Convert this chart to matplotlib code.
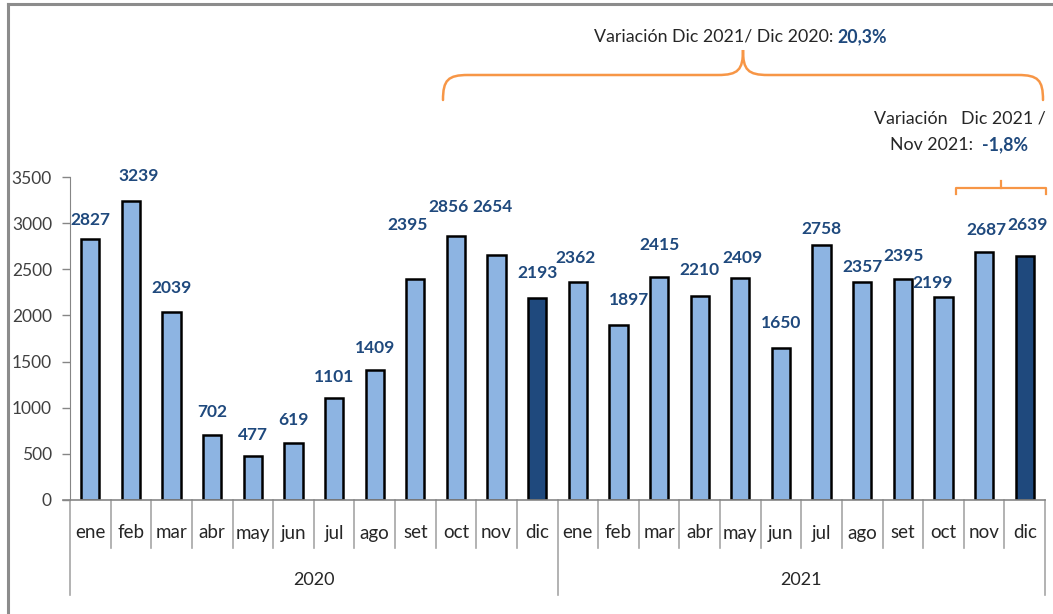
import matplotlib
matplotlib.use("Agg")
import matplotlib.pyplot as plt
from matplotlib.path import Path
from matplotlib.patches import PathPatch
from matplotlib.lines import Line2D

plt.rcParams['font.family'] = ['Lato', 'DejaVu Sans']

months = ["ene", "feb", "mar", "abr", "may", "jun", "jul", "ago", "set", "oct", "nov", "dic"]
years = ["2020", "2021"]
values_2020 = [2827, 3239, 2039, 702, 477, 619, 1101, 1409, 2395, 2856, 2654, 2193]
values_2021 = [2362, 1897, 2415, 2210, 2409, 1650, 2758, 2357, 2395, 2199, 2687, 2639]
yticks = [0, 500, 1000, 1500, 2000, 2500, 3000, 3500]

# label placement tweaks (pixels: dx, gap above bar top)
label_dx = [0, 8, 0, 0, 0, 0, 0, 0, -8, -7, -4, 0,
            -2, 11, 0, 0, 2, 0, 0, 0, 1, -11, 2, 3]
label_gap = [19, 25, 24, 23, 21, 23, 21, 22, 54, 29, 48, 25,
             24, 25, 32, 26, 20, 25, 16, 15, 23, 14, 22, 31]

values = values_2020 + values_2021
labels = months * 2
n = len(values)

W, H = 1053, 614
fig = plt.figure(figsize=(W / 100, H / 100), dpi=100)
ax = fig.add_axes([70 / W, 1 - 500 / H, (1045 - 70) / W, (500 - 177) / H])

light = "#8DB4E2"
dark = "#1F497D"
colors = [dark if m == "dic" else light for m in labels]
xs = list(range(n))
ax.bar(xs, values, width=0.45, color=colors, edgecolor="black", linewidth=1.8, zorder=3)

ax.set_xlim(-0.5, n - 0.5)
ax.set_ylim(0, 3500)
ax.set_yticks(yticks)
ax.set_yticklabels([str(t) for t in yticks], fontsize=12.5, color="#404040")
ax.tick_params(axis="y", length=6, color="#868686", width=1, pad=7)
ax.set_xticks([])
for s in ["top", "right"]:
    ax.spines[s].set_visible(False)
ax.spines["left"].set_color("#868686")
ax.spines["bottom"].set_visible(False)

ax.plot([-0.5 - 7 / 40.6, n - 0.5], [0, 0], color="#868686", lw=1.2, clip_on=False, zorder=4)

# data labels
for i, v in enumerate(values):
    ax.annotate(str(v), (i, v), xytext=(label_dx[i] * 0.72, label_gap[i] * 0.72),
                textcoords="offset points", ha="center", va="center",
                fontsize=12.5, fontweight="bold", color=dark, zorder=5)

# category axis: separators and labels
trans = ax.get_xaxis_transform()
ypx = lambda p: (500 - p) / (500 - 177)
for k in range(n + 1):
    x = k - 0.5
    low = 595 if k % 12 == 0 else 548
    ax.add_line(Line2D([x, x], [0, ypx(low)], transform=trans, color="#A6A6A6", lw=1.2, clip_on=False))
for i, m in enumerate(labels):
    ax.text(i, ypx(533), m, transform=trans, ha="center", va="center", fontsize=13.5, color="#262626")
for j, y in enumerate(years):
    ax.text(j * 12 + 5.5, ypx(580), y, transform=trans, ha="center", va="center", fontsize=13, color="#262626")

# outer frame
fx = lambda p: p / W
fy = lambda p: 1 - p / H
fig.add_artist(Line2D([fx(8), fx(1053)], [fy(4), fy(4)], color="#8C8C8C", lw=2.2))
fig.add_artist(Line2D([fx(8), fx(8)], [fy(4), fy(614)], color="#8C8C8C", lw=2.2))

orange = "#F79646"

def brace(x0, x1, yb, yl, ytip, r, lw):
    xm = (x0 + x1) / 2
    pts = [(x0, yb), (x0, yl + r * 0.2), (x0 + r * 0.2, yl), (x0 + r, yl),
           (xm - r, yl), (xm - r * 0.2, yl), (xm, yl - r * 0.2), (xm, ytip),
           (xm, yl - r * 0.2), (xm + r * 0.2, yl), (xm + r, yl),
           (x1 - r, yl), (x1 - r * 0.2, yl), (x1, yl + r * 0.2), (x1, yb)]
    codes = [Path.MOVETO, Path.CURVE4, Path.CURVE4, Path.CURVE4,
             Path.LINETO, Path.CURVE4, Path.CURVE4, Path.CURVE4,
             Path.CURVE4, Path.CURVE4, Path.CURVE4,
             Path.LINETO, Path.CURVE4, Path.CURVE4, Path.CURVE4]
    verts = [(fx(a), fy(b)) for a, b in pts]
    fig.add_artist(PathPatch(Path(verts, codes), transform=fig.transFigure,
                             fill=False, edgecolor=orange, lw=lw, capstyle="round"))

brace(443, 1043, 100, 75, 50, 25, 1.8)

def small_brace(x0, x1, yb, yl, ytip, lw):
    xm = (x0 + x1) / 2
    fig.add_artist(Line2D([fx(x0), fx(x0), fx(x1), fx(x1)], [fy(yb), fy(yl), fy(yl), fy(yb)],
                          color=orange, lw=lw))
    fig.add_artist(Line2D([fx(xm), fx(xm)], [fy(yl), fy(ytip)], color=orange, lw=lw))

small_brace(956, 1046, 194, 188, 181, 1.6)

# annotation texts
t1 = fig.text(fx(594), fy(37), "Variación Dic 2021/ Dic 2020: ", ha="left", va="center",
              fontsize=12.8, color="#262626")
fig.canvas.draw()
bb = t1.get_window_extent()
fig.text(bb.x1 / W, fy(37), "20,3%", ha="left", va="center", fontsize=12.8,
         fontweight="bold", color=dark)

fig.text(fx(1046), fy(118), "Variación   Dic 2021 /", ha="right", va="center",
         fontsize=12.8, color="#262626")
t2 = fig.text(fx(890), fy(145), "Nov 2021:  ", ha="left", va="center",
              fontsize=12.8, color="#262626")
fig.canvas.draw()
bb2 = t2.get_window_extent()
fig.text(bb2.x1 / W, fy(145), "-1,8%", ha="left", va="center", fontsize=12.8,
         fontweight="bold", color=dark)

fig.savefig("out.png", dpi=100)
